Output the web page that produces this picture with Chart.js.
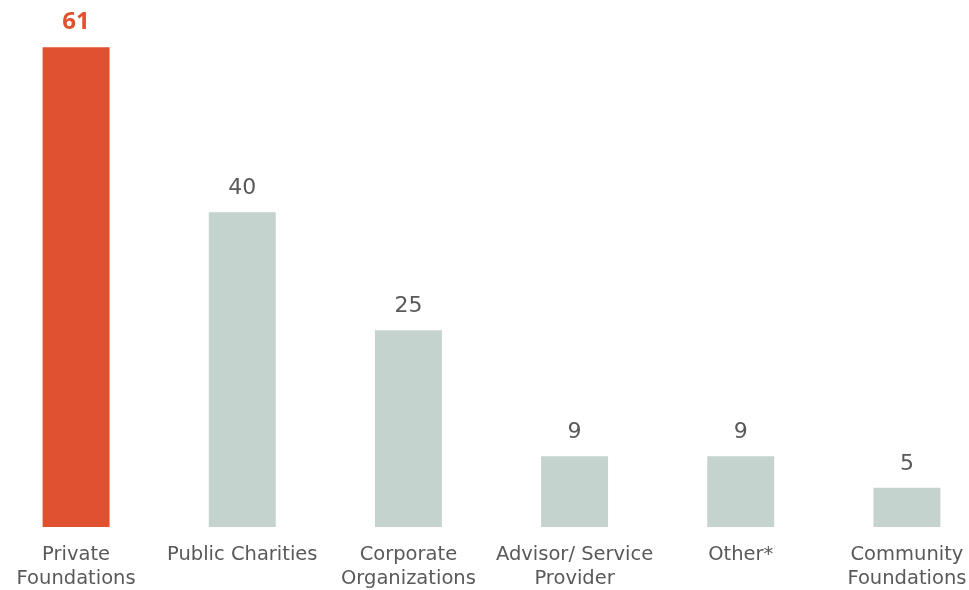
<!DOCTYPE html>
<html>
<head>
<meta charset="utf-8">
<script src="https://cdn.jsdelivr.net/npm/chart.js@4.4.1/dist/chart.umd.min.js"></script>
<style>
    body { margin: 0; background: #fff; overflow: hidden; }
    .chart-box { position: relative; left: -7px; width: 997px; height: 590px; }
</style>
</head>
<body>
<div class="chart-box"><canvas id="orgChart"></canvas></div>
<script>
    // data
    const categories = [
        ['Private', 'Foundations'],
        'Public Charities',
        ['Corporate', 'Organizations'],
        ['Advisor/ Service', 'Provider'],
        'Other*',
        ['Community', 'Foundations']
    ];
    const counts = [61, 40, 25, 9, 9, 5];

    const highlight = '#E0522F';
    const muted = '#C4D3CE';
    const textGray = '#595959';
    const fontFamily = '"DejaVu Sans", Verdana, sans-serif';

    // value labels above each bar
    const valueLabels = {
        id: 'valueLabels',
        afterDatasetsDraw(chart) {
            const ctx = chart.ctx;
            const meta = chart.getDatasetMeta(0);
            ctx.save();
            ctx.textAlign = 'center';
            ctx.textBaseline = 'alphabetic';
            meta.data.forEach((bar, i) => {
                const first = i === 0;
                ctx.font = first ? 'bold 24px "Open Sans", sans-serif' : '22px ' + fontFamily;
                ctx.fillStyle = first ? highlight : textGray;
                ctx.fillText(counts[i], bar.x, bar.y - 18);
            });
            ctx.restore();
        }
    };

    const ctx = document.getElementById('orgChart').getContext('2d');
    new Chart(ctx, {
        type: 'bar',
        data: {
            labels: categories,
            datasets: [{
                data: counts,
                backgroundColor: counts.map((v, i) => i === 0 ? highlight : muted),
                categoryPercentage: 1,
                barPercentage: 0.403
            }]
        },
        options: {
            responsive: true,
            maintainAspectRatio: false,
            animation: false,
            plugins: {
                legend: { display: false },
                tooltip: { enabled: false }
            },
            scales: {
                x: {
                    grid: { display: false, drawTicks: false },
                    border: { display: false },
                    ticks: {
                        color: textGray,
                        padding: 16,
                        maxRotation: 0,
                        autoSkip: false,
                        font: { family: fontFamily, size: 19.5, lineHeight: 1.23 }
                    },
                    afterFit: (scale) => { scale.height = 63; }
                },
                y: {
                    display: false,
                    min: 0,
                    max: 67
                }
            }
        },
        plugins: [valueLabels]
    });
</script>
</body>
</html>
